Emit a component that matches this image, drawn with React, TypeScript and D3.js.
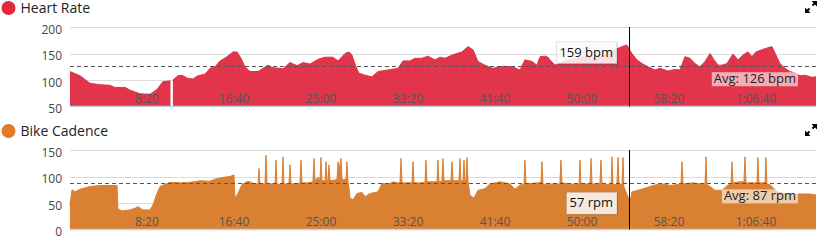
import React, { useEffect, useRef } from "react";
import * as d3 from "d3";

// ---------- DATA ----------
// [elapsed seconds, bpm] ; null = missing sample
const heartRate: [number, number | null][] = [
  [57, 116], [115, 108], [172, 94], [230, 91], [287, 90], [316, 86], [374, 86], [402, 81],
  [460, 74], [517, 73], [557, 82], [592, 97], [621, 98], [635, 98], [638, null], [646, null],
  [649, 100], [678, 108], [701, 109], [736, 103], [764, 102], [793, 108], [833, 111], [862, 122],
  [891, 125], [920, 136], [960, 144], [994, 153], [1017, 153], [1040, 141], [1063, 125], [1092, 116],
  [1138, 116], [1167, 122], [1195, 128], [1224, 123], [1264, 122], [1282, 121], [1322, 133], [1362, 127],
  [1397, 133], [1437, 130], [1483, 139], [1523, 143], [1569, 143], [1598, 136], [1638, 150], [1661, 153],
  [1678, 147], [1701, 125], [1718, 113], [1753, 109], [1793, 106], [1828, 116], [1885, 119], [1943, 122],
  [1971, 136], [2011, 136], [2040, 141], [2080, 141], [2115, 145], [2155, 138], [2184, 143], [2213, 141],
  [2253, 147], [2310, 153], [2345, 163], [2374, 157], [2402, 135], [2442, 128], [2488, 122], [2546, 126],
  [2598, 125], [2644, 119], [2672, 138], [2713, 135], [2741, 128], [2759, 144], [2787, 145], [2805, 143],
  [2816, 138], [2845, 128], [2902, 136], [2960, 140], [3017, 145], [3075, 142], [3132, 148], [3161, 152],
  [3190, 157], [3230, 163], [3258, 166], [3287, 150], [3316, 138], [3345, 131], [3379, 125], [3419, 119],
  [3448, 122], [3494, 117], [3534, 120], [3563, 119], [3592, 144], [3621, 141], [3649, 131], [3678, 125],
  [3707, 135], [3736, 150], [3759, 138], [3782, 128], [3805, 128], [3833, 131], [3868, 149], [3897, 138],
  [3925, 147], [3954, 153], [3977, 144], [4000, 153], [4034, 157], [4069, 161], [4092, 163], [4115, 147],
  [4138, 131], [4167, 122], [4195, 116], [4224, 113], [4253, 108], [4282, 109], [4322, 105], [4345, 106],
];

// [elapsed seconds, rpm]
const cadence: [number, number][] = [
  [57, 46], [69, 75], [86, 71], [115, 76], [172, 81], [230, 83], [287, 83], [328, 83], [333, 39],
  [356, 35], [402, 37], [431, 40], [448, 43], [477, 37], [517, 37], [534, 46], [557, 68], [575, 81],
  [603, 85], [632, 89], [690, 88], [747, 89], [805, 92], [862, 91], [891, 95], [931, 98], [977, 100],
  [1000, 103], [1006, 59], [1023, 68], [1046, 85], [1080, 91], [1121, 86], [1138, 86], [1144, 115],
  [1149, 86], [1178, 86], [1184, 140], [1190, 84], [1224, 87], [1236, 87], [1241, 131], [1247, 85],
  [1276, 86], [1282, 137], [1287, 86], [1316, 86], [1322, 122], [1328, 86], [1379, 87], [1385, 131],
  [1391, 88], [1425, 88], [1454, 90], [1460, 134], [1466, 90], [1483, 99], [1494, 92], [1500, 136],
  [1506, 92], [1523, 92], [1529, 128], [1534, 92], [1540, 92], [1546, 122], [1552, 92], [1569, 93],
  [1592, 94], [1598, 128], [1603, 110], [1615, 134], [1621, 94], [1632, 94], [1644, 95], [1649, 128],
  [1655, 90], [1661, 78], [1667, 59], [1684, 56], [1707, 68], [1736, 70], [1753, 62], [1782, 68],
  [1828, 71], [1851, 87], [1885, 85], [1914, 90], [1943, 88], [1954, 88], [1960, 134], [1966, 88],
  [2011, 88], [2023, 88], [2029, 128], [2034, 88], [2080, 88], [2098, 89], [2103, 131], [2109, 90],
  [2155, 90], [2167, 90], [2172, 131], [2178, 90], [2195, 91], [2201, 134], [2207, 92], [2241, 92],
  [2247, 92], [2253, 128], [2259, 92], [2293, 92], [2299, 134], [2304, 92], [2316, 92], [2322, 131],
  [2327, 92], [2333, 92], [2339, 136], [2345, 90], [2356, 65], [2379, 59], [2402, 74], [2442, 77],
  [2471, 86], [2529, 90], [2586, 86], [2615, 76], [2644, 84], [2667, 86], [2672, 131], [2678, 86],
  [2741, 88], [2764, 88], [2770, 128], [2776, 85], [2845, 86], [2873, 86], [2879, 131], [2885, 88],
  [2960, 85], [2983, 85], [2989, 131], [2994, 86], [3046, 86], [3052, 134], [3058, 86], [3103, 86],
  [3109, 131], [3115, 85], [3167, 85], [3173, 137], [3178, 85], [3201, 85], [3207, 136], [3213, 85],
  [3230, 85], [3236, 136], [3241, 80], [3253, 71], [3264, 62], [3276, 52], [3287, 71], [3322, 74],
  [3362, 78], [3391, 81], [3431, 85], [3477, 86], [3506, 83], [3552, 85], [3569, 85], [3575, 128],
  [3581, 86], [3638, 88], [3678, 86], [3707, 86], [3713, 137], [3718, 85], [3736, 81], [3764, 74],
  [3805, 74], [3839, 84], [3856, 85], [3862, 128], [3868, 88], [3908, 90], [3931, 90], [3937, 137],
  [3943, 88], [4006, 88], [4011, 136], [4017, 88], [4052, 88], [4057, 136], [4063, 85], [4080, 85],
  [4121, 71], [4195, 65], [4253, 67], [4310, 67], [4345, 65],
];

const timeTicks = [500, 1000, 1500, 2000, 2500, 3000, 3500, 4000];
const hrTicks = [50, 100, 150, 200];
const cadTicks = [0, 50, 100, 150];
const timeExtent: [number, number] = [57.5, 4345];
const cursorTime = 3270;
const hrAverage = 126;
const cadAverage = 87;
const hrCursorValue = 159;
const cadCursorValue = 57;

// ---------- LAYOUT ----------
const W = 833;
const H = 241;
const LEFT = 70;
const RIGHT = 816;
const FONT = "'Open Sans', 'DejaVu Sans', sans-serif";

function fmtTime(s: number): string {
  const h = Math.floor(s / 3600);
  const m = Math.floor((s % 3600) / 60);
  const sec = Math.round(s % 60);
  const ss = String(sec).padStart(2, "0");
  return h > 0 ? `${h}:${String(m).padStart(2, "0")}:${ss}` : `${m}:${ss}`;
}

interface PanelCfg {
  title: string;
  color: string;
  dot: string;
  data: [number, number | null][];
  yDomain: [number, number];
  ticks: number[];
  top: number;
  bottom: number;
  offset: number;
  avg: number;
  unit: string;
  cursorValue: number;
}

const panels: PanelCfg[] = [
  {
    title: "Heart Rate", color: "#e2344b", dot: "#e3283e", data: heartRate,
    yDomain: [50, 200], ticks: hrTicks, top: 27, bottom: 106.5, offset: 0,
    avg: hrAverage, unit: "bpm", cursorValue: hrCursorValue,
  },
  {
    title: "Bike Cadence", color: "#da8033", dot: "#df7b2a", data: cadence,
    yDomain: [0, 150], ticks: cadTicks, top: 150, bottom: 229.5, offset: 123,
    avg: cadAverage, unit: "rpm", cursorValue: cadCursorValue,
  },
];

export default function App() {
  const ref = useRef<SVGSVGElement | null>(null);

  useEffect(() => {
    const svg = d3.select(ref.current!);
    svg.selectAll("*").remove();
    const x = d3.scaleLinear().domain(timeExtent).range([LEFT, RIGHT]);

    panels.forEach((p) => {
      const g = svg.append("g");
      const y = d3.scaleLinear().domain(p.yDomain).range([p.bottom, p.top]);

      // grid lines
      g.selectAll(".grid")
        .data(p.ticks.slice(1))
        .enter()
        .append("line")
        .attr("x1", LEFT).attr("x2", RIGHT)
        .attr("y1", (d) => Math.round(y(d)) + 0.5).attr("y2", (d) => Math.round(y(d)) + 0.5)
        .attr("stroke", "#dcdcdc").attr("stroke-width", 1);

      // area
      const area = d3.area<[number, number | null]>()
        .defined((d) => d[1] !== null)
        .x((d) => x(d[0]))
        .y0(y(p.yDomain[0]))
        .y1((d) => y(d[1] as number));
      const line = d3.line<[number, number | null]>()
        .defined((d) => d[1] !== null)
        .x((d) => x(d[0]))
        .y((d) => y(d[1] as number));
      g.append("path").attr("d", area(p.data) as string).attr("fill", p.color);
      g.append("path").attr("d", line(p.data) as string)
        .attr("fill", "none").attr("stroke", p.color).attr("stroke-width", 1)
        .attr("stroke-linejoin", "round");

      // axis baseline
      g.append("line")
        .attr("x1", LEFT).attr("x2", RIGHT)
        .attr("y1", p.bottom).attr("y2", p.bottom)
        .attr("stroke", "#c2d0df").attr("stroke-width", 1.5);

      // average dashed line
      g.append("line")
        .attr("x1", LEFT).attr("x2", RIGHT)
        .attr("y1", Math.round(y(p.avg)) + 0.5).attr("y2", Math.round(y(p.avg)) + 0.5)
        .attr("stroke", "#555").attr("stroke-width", 1).attr("stroke-dasharray", "4,3");

      // x labels
      g.selectAll(".xl")
        .data(timeTicks)
        .enter()
        .append("text")
        .attr("x", (d) => x(d))
        .attr("y", p.bottom - 4)
        .attr("text-anchor", "middle")
        .attr("font-family", FONT).attr("font-size", 12)
        .attr("fill", "#555")
        .text((d) => fmtTime(d));

      // y labels
      g.selectAll(".yl")
        .data(p.ticks)
        .enter()
        .append("text")
        .attr("x", 62)
        .attr("y", (d) => y(d) + 6.5)
        .attr("text-anchor", "end")
        .attr("font-family", FONT).attr("font-size", 12)
        .attr("fill", "#444")
        .text((d) => String(d));

      // cursor
      const cx = Math.round(x(cursorTime)) + 0.5;
      g.append("line")
        .attr("x1", cx).attr("x2", cx)
        .attr("y1", p.top).attr("y2", p.bottom)
        .attr("stroke", "#000").attr("stroke-width", 1);

      // avg label
      const avgY = y(p.avg);
      const at = g.append("text")
        .attr("x", 796)
        .attr("y", avgY + 16.5)
        .attr("text-anchor", "end")
        .attr("font-family", FONT).attr("font-size", 13)
        .attr("fill", "#222")
        .text(`Avg: ${p.avg} ${p.unit}`);
      const ab = (at.node() as SVGTextElement).getBBox();
      g.insert("rect", () => at.node() as any)
        .attr("x", ab.x - 2).attr("y", avgY + 6)
        .attr("width", ab.width + 4).attr("height", 14)
        .attr("fill", "rgba(255,255,255,0.6)");

      // tooltip
      const ty = y(p.cursorValue) + 3.5;
      const tt = g.append("text")
        .attr("y", ty + 4.5)
        .attr("font-family", FONT).attr("font-size", 13)
        .attr("fill", "#111")
        .attr("text-anchor", "middle")
        .text(`${p.cursorValue} ${p.unit}`);
      const tw = (tt.node() as SVGTextElement).getComputedTextLength();
      const boxW = tw + 7;
      const boxRight = cx - 13;
      const boxX = boxRight - boxW;
      tt.attr("x", boxX + boxW / 2);
      g.insert("rect", () => tt.node() as any)
        .attr("x", boxX + 1.5).attr("y", ty - 11 + 1.5)
        .attr("width", boxW).attr("height", 22)
        .attr("fill", "rgba(0,0,0,0.12)");
      g.insert("rect", () => tt.node() as any)
        .attr("x", boxX + 0.5).attr("y", ty - 11 + 0.5)
        .attr("width", boxW).attr("height", 22)
        .attr("fill", "rgba(255,255,255,0.85)")
        .attr("stroke", "rgba(0,0,0,0.12)").attr("stroke-width", 1);

      // title
      g.append("circle")
        .attr("cx", 8.5).attr("cy", 8 + p.offset).attr("r", 7)
        .attr("fill", p.dot);
      g.append("text")
        .attr("x", 20.5).attr("y", 12.5 + p.offset)
        .attr("font-family", FONT).attr("font-size", 14)
        .attr("fill", "#222")
        .text(p.title);

      // expand icon
      const ic = g.append("g").attr("transform", `translate(0,${p.offset})`);
      ic.append("path")
        .attr("d", "M817,1 L817,6.5 L811.5,1 Z M805,13 L805,7.5 L810.5,13 Z")
        .attr("fill", "#000");
      ic.append("path")
        .attr("d", "M815,3 L812.5,5.5 M807,11 L809.5,8.5")
        .attr("stroke", "#000").attr("stroke-width", 2);
    });
  }, []);

  return (
    <svg
      ref={ref}
      width={W}
      height={H}
      style={{ position: "absolute", left: 0, top: 0, background: "#fff" }}
    />
  );
}
